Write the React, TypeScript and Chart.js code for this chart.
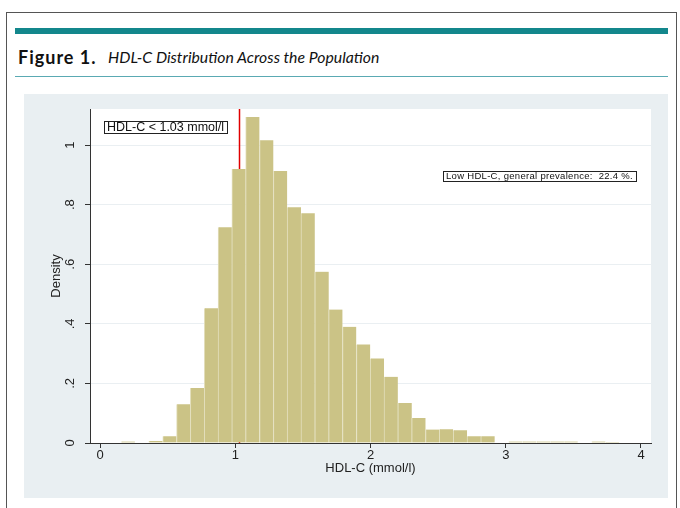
import React, { useEffect, useRef } from "react";
import { Chart, registerables } from "chart.js";

Chart.register(...registerables);

// Histogram bins (centres, mmol/l) and densities
const binCenters = [
  0.207, 0.31, 0.412, 0.515, 0.617, 0.719, 0.822, 0.924, 1.026, 1.128, 1.231, 1.333,
  1.435, 1.537, 1.64, 1.742, 1.844, 1.947, 2.049, 2.151, 2.254, 2.356, 2.458, 2.56,
  2.663, 2.765, 2.867, 2.97, 3.072, 3.174, 3.277, 3.379, 3.481, 3.584, 3.686, 3.788,
];
const densities = [
  0.005, 0, 0.007, 0.0225, 0.13, 0.185, 0.452, 0.724, 0.92, 1.094, 1.016, 0.913,
  0.791, 0.771, 0.575, 0.448, 0.39, 0.331, 0.284, 0.222, 0.134, 0.084, 0.045, 0.046,
  0.043, 0.0225, 0.0225, 0, 0.005, 0.005, 0.005, 0.005, 0.005, 0, 0.005, 0.003,
];

const xTickValues = [0, 1, 2, 3, 4];
const xTickLabels = ["0", "1", "2", "3", "4"];
const yTickValues = [0, 0.2, 0.4, 0.6, 0.8, 1];
const yTickLabels = ["0", ".2", ".4", ".6", ".8", "1"];
const xRange = [-0.074, 4.074];
const yRange = [0, 1.121];
const cutoffValues = [1.03];

const cutoffLabel = "HDL-C < 1.03 mmol/l";
const prevalenceLabel = "Low HDL-C, general prevalence:  22.4 %.";
const xTitle = "HDL-C (mmol/l)";
const yTitle = "Density";
const figureLabel = "Figure 1.";
const figureTitle = "HDL-C Distribution Across the Population";

const FONT = "'Liberation Sans', Arial, sans-serif";

function ChartCanvas() {
  const ref = useRef<HTMLCanvasElement | null>(null);
  useEffect(() => {
    if (!ref.current) return;
    const decor = {
      id: "decor",
      beforeDraw(chart: any) {
        const { ctx, chartArea } = chart;
        ctx.save();
        ctx.fillStyle = "#ffffff";
        ctx.fillRect(chartArea.left, chartArea.top, chartArea.right - chartArea.left, chartArea.bottom - chartArea.top);
        ctx.restore();
      },
      beforeDatasetsDraw(chart: any) {
        const { ctx, chartArea, scales } = chart;
        ctx.save();
        ctx.strokeStyle = "#e00000";
        ctx.lineWidth = 1.5;
        cutoffValues.forEach((v) => {
          const px = Math.round(scales.x.getPixelForValue(v)) + 0.5;
          ctx.beginPath();
          ctx.moveTo(px, chartArea.top);
          ctx.lineTo(px, chartArea.bottom);
          ctx.stroke();
        });
        ctx.restore();
      },
      afterDraw(chart: any) {
        const { ctx, chartArea, scales } = chart;
        ctx.save();
        // y tick labels, rotated
        ctx.fillStyle = "#222";
        ctx.font = `13px ${FONT}`;
        ctx.textAlign = "center";
        ctx.textBaseline = "middle";
        yTickValues.forEach((v, i) => {
          const py = scales.y.getPixelForValue(v);
          ctx.save();
          ctx.translate(chartArea.left - 20, py);
          ctx.rotate(-Math.PI / 2);
          ctx.fillText(yTickLabels[i], 0, 0);
          ctx.restore();
        });
        // y title
        ctx.save();
        ctx.translate(chartArea.left - 34, (chartArea.top + chartArea.bottom) / 2);
        ctx.rotate(-Math.PI / 2);
        ctx.font = `13px ${FONT}`;
        ctx.fillText(yTitle, 0, 0);
        ctx.restore();

        // cutoff box
        ctx.font = `12.5px ${FONT}`;
        ctx.textAlign = "left";
        const w1 = ctx.measureText(cutoffLabel).width;
        const b1x = chartArea.left + 14;
        const b1y = chartArea.top + 12;
        ctx.fillStyle = "#ffffff";
        ctx.fillRect(b1x, b1y, w1 + 6, 12);
        ctx.strokeStyle = "#222";
        ctx.lineWidth = 1;
        ctx.strokeRect(Math.round(b1x) + 0.5, Math.round(b1y) + 0.5, Math.round(w1 + 6), 12);
        ctx.fillStyle = "#111";
        ctx.fillText(cutoffLabel, b1x + 3, b1y + 7);

        // prevalence box
        ctx.font = `9.5px ${FONT}`;
        (ctx as any).letterSpacing = "0.3px";
        const w2 = ctx.measureText(prevalenceLabel).width;
        const b2x = chartArea.right - 15 - (w2 + 6);
        const b2y = chartArea.top + 62;
        ctx.fillStyle = "#ffffff";
        ctx.fillRect(b2x, b2y, w2 + 6, 10);
        ctx.strokeStyle = "#222";
        ctx.strokeRect(Math.round(b2x) + 0.5, Math.round(b2y) + 0.5, Math.round(w2 + 6), 10);
        ctx.fillStyle = "#111";
        ctx.fillText(prevalenceLabel, b2x + 3, b2y + 5.5);
        (ctx as any).letterSpacing = "0px";
        ctx.restore();
      },
    };

    const chart = new Chart(ref.current, {
      type: "bar",
      data: {
        datasets: [
          {
            data: binCenters.map((x, i) => ({ x, y: densities[i] })),
            backgroundColor: "#cbc386",
            borderColor: "#e3dfbd",
            borderWidth: { left: 1, right: 0, top: 0, bottom: 0 },
            borderSkipped: false,
            barPercentage: 1,
            categoryPercentage: 1,
          } as any,
        ],
      },
      options: {
        animation: false,
        responsive: false,
        devicePixelRatio: 1,
        layout: { padding: { left: 0, right: 17, top: 15, bottom: 0 } },
        plugins: { legend: { display: false }, tooltip: { enabled: false } },
        scales: {
          x: {
            type: "linear",
            min: xRange[0],
            max: xRange[1],
            offset: false,
            afterBuildTicks: (s: any) => {
              s.ticks = xTickValues.map((v) => ({ value: v }));
            },
            afterFit: (s: any) => {
              s.height = 55;
            },
            ticks: {
              autoSkip: false,
              maxRotation: 0,
              padding: 0,
              color: "#222",
              font: { family: FONT, size: 13 },
              callback: (v: any) => xTickLabels[xTickValues.indexOf(Number(v))] ?? "",
            },
            grid: {
              display: true,
              offset: false,
              drawOnChartArea: false,
              tickLength: 5,
              tickColor: "#333",
              color: "#333",
            },
            border: { color: "#333", width: 1 },
            title: {
              display: true,
              text: xTitle,
              color: "#222",
              font: { family: FONT, size: 13 },
              padding: { top: 0, bottom: 22 },
            },
          },
          y: {
            type: "linear",
            min: yRange[0],
            max: yRange[1],
            afterBuildTicks: (s: any) => {
              s.ticks = yTickValues.map((v) => ({ value: v }));
            },
            afterFit: (s: any) => {
              s.width = 66;
            },
            ticks: { display: false },
            grid: { color: "#eaeff2", tickLength: 5, tickColor: "#333", drawTicks: true },
            border: { color: "#333", width: 1 },
          },
        },
      } as any,
      plugins: [decor],
    });
    return () => chart.destroy();
  }, []);
  return (
    <canvas
      ref={ref}
      width={644}
      height={404}
      style={{ position: "absolute", left: 24, top: 94, width: 644, height: 404, background: "#e9eff2" }}
    />
  );
}

export default function App() {
  return (
    <div style={{ position: "absolute", left: 0, top: 0, width: 680, height: 508, overflow: "hidden", background: "#fff" }}>
      <div
        style={{
          position: "absolute",
          left: 6,
          top: 12,
          width: 669,
          height: 520,
          borderLeft: "1px solid #555",
          borderTop: "1px solid #555",
          borderRight: "1px solid #555",
        }}
      />
      <div style={{ position: "absolute", left: 15, top: 28, width: 653, height: 6, background: "#13878c" }} />
      <div
        style={{
          position: "absolute",
          left: 18,
          top: 46,
          fontFamily: "Lato, 'Open Sans', sans-serif",
          fontSize: 18,
          fontWeight: 700,
          letterSpacing: 1,
          color: "#111",
          whiteSpace: "nowrap",
          lineHeight: "22px",
        }}
      >
        {figureLabel}
      </div>
      <div
        style={{
          position: "absolute",
          left: 108,
          top: 47,
          fontFamily: "Lato, 'Open Sans', sans-serif",
          fontSize: 15.8,
          fontStyle: "italic",
          color: "#111",
          whiteSpace: "nowrap",
          lineHeight: "20px",
        }}
      >
        {figureTitle}
      </div>
      <div style={{ position: "absolute", left: 15, top: 76, width: 653, height: 1, background: "#5aaab3" }} />
      <ChartCanvas />
    </div>
  );
}
